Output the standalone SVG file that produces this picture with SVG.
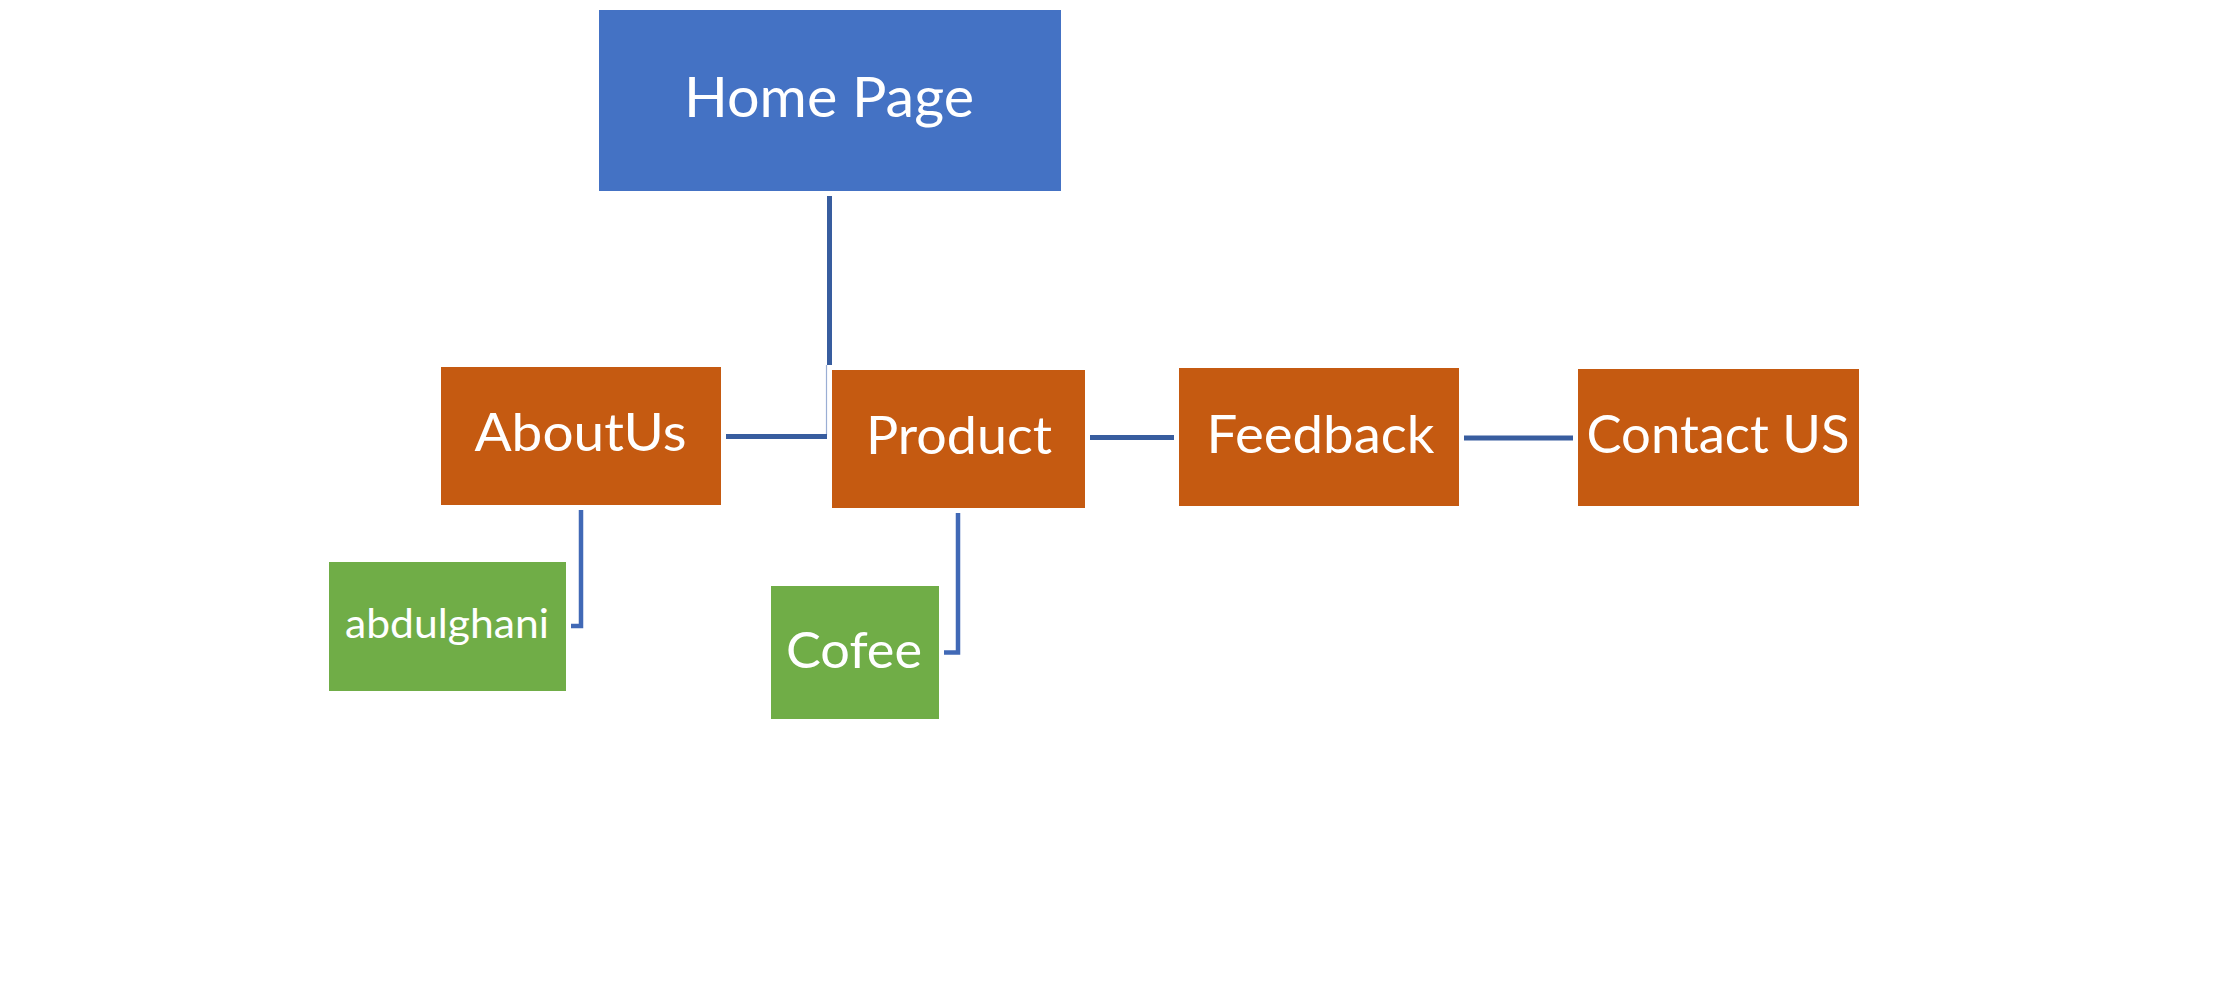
<svg xmlns="http://www.w3.org/2000/svg" width="2226" height="997" viewBox="0 0 2226 997">
<style>
.blue{fill:#4472c4}
.orange{fill:#c55a11}
.green{fill:#70ad47}
.t{font-family:Lato,"Open Sans",sans-serif;fill:#ffffff;text-anchor:middle}
.c{stroke:#385d9f;stroke-width:5;fill:none}
.c2{stroke:#4169b6;stroke-width:4.5;fill:none}
.thin{stroke:#9aaed4;stroke-width:1.2;fill:none}
</style>
<rect width="2226" height="997" fill="#ffffff"/>
<g id="connectors">
<line class="c" x1="829.5" y1="196" x2="829.5" y2="365"/>
<line class="thin" x1="826.5" y1="365" x2="826.5" y2="435"/>
<line class="c" x1="726" y1="436.5" x2="827" y2="436.5"/>
<line class="c" x1="1090" y1="437.5" x2="1174" y2="437.5"/>
<line class="c" x1="1464" y1="438" x2="1573" y2="438"/>
<polyline class="c2" points="581,510 581,626 571,626"/>
<polyline class="c2" points="958,513 958,652.5 944,652.5"/>
</g>
<g id="home">
<rect class="blue" x="599" y="10" width="462" height="181"/>
<text class="t" x="829" y="117" font-size="57" textLength="290" lengthAdjust="spacingAndGlyphs">Home Page</text>
</g>
<g id="aboutus">
<rect class="orange" x="441" y="367" width="280" height="138"/>
<text class="t" x="580.5" y="451" font-size="52.6" textLength="212" lengthAdjust="spacingAndGlyphs">AboutUs</text>
</g>
<g id="product">
<rect class="orange" x="832" y="370" width="253" height="138"/>
<text class="t" x="959" y="454" font-size="52.6" textLength="186" lengthAdjust="spacingAndGlyphs">Product</text>
</g>
<g id="feedback">
<rect class="orange" x="1179" y="368" width="280" height="138"/>
<text class="t" x="1320.5" y="452.7" font-size="52.6" textLength="228" lengthAdjust="spacingAndGlyphs">Feedback</text>
</g>
<g id="contact">
<rect class="orange" x="1578" y="369" width="281" height="137"/>
<text class="t" x="1718" y="452.7" font-size="52.6" textLength="263" lengthAdjust="spacingAndGlyphs">Contact US</text>
</g>
<g id="abdulghani">
<rect class="green" x="329" y="562" width="237" height="129"/>
<text class="t" x="447" y="638.3" font-size="41" textLength="204" lengthAdjust="spacingAndGlyphs">abdulghani</text>
</g>
<g id="cofee">
<rect class="green" x="771" y="586" width="168" height="133"/>
<text class="t" x="854" y="667.7" font-size="51" textLength="136" lengthAdjust="spacingAndGlyphs">Cofee</text>
</g>
</svg>
